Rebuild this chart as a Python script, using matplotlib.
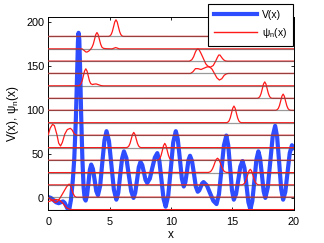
import matplotlib
matplotlib.use("Agg")
import matplotlib.pyplot as plt

plt.rcParams['font.family'] = ['Liberation Sans', 'DejaVu Sans']
plt.rcParams['mathtext.fontset'] = 'custom'
plt.rcParams['mathtext.rm'] = 'Liberation Sans'
plt.rcParams['mathtext.it'] = 'Liberation Sans'

# ---- potential V(x) ----
v_x = [0.0, 0.21, 0.43, 0.64, 0.85, 1.02, 1.2, 1.33, 1.45, 1.58, 1.7,
       1.85, 2.0, 2.12, 2.25, 2.35, 2.42, 2.47, 2.53, 2.6, 2.68, 2.78, 2.88, 2.97, 3.05,
       3.16, 3.28, 3.39, 3.5, 3.64, 3.78, 3.91, 4.05, 4.23, 4.4, 4.58, 4.75,
       4.95, 5.15, 5.35, 5.55, 5.71, 5.86, 6.02, 6.17, 6.37, 6.56, 6.76, 6.95,
       7.09, 7.24, 7.38, 7.52, 7.66, 7.8, 7.93, 8.07, 8.28, 8.48, 8.69, 8.89,
       9.06, 9.23, 9.4, 9.57, 9.78, 9.99, 10.19, 10.4, 10.56, 10.73, 10.89, 11.05,
       11.18, 11.31, 11.43, 11.56, 11.72, 11.88, 12.03, 12.19, 12.31, 12.43, 12.54, 12.66,
       12.93, 13.19, 13.46, 13.72, 13.92, 14.12, 14.32, 14.52, 14.67, 14.83, 14.98, 15.13,
       15.31, 15.49, 15.66, 15.84, 16.0, 16.16, 16.32, 16.48, 16.64, 16.81, 16.97, 17.13,
       17.27, 17.42, 17.56, 17.7, 17.9, 18.1, 18.3, 18.5, 18.66, 18.83, 18.99, 19.15,
       19.33, 19.51, 19.69, 19.87, 20.0]
v_y = [1, 0, -2.5, -5, -6, -5, -4, -5.5, -9, -12.5, -14,
       -2, 20, 45, 90, 140, 178, 188, 180, 145, 95, 45, 12, -1, -3,
       3, 17.5, 32, 38, 33, 20.5, 8, 3, 13.7, 39.5, 65.3, 76,
       64.6, 37, 9.4, -2, 6, 25.5, 45, 53, 45.3, 26.5, 7.7, 0,
       6, 20.5, 35, 41, 37.5, 29, 20.5, 17, 22, 34, 46, 51,
       42, 20.5, -1, -10, 2.6, 33, 63.4, 76, 66.8, 44.5, 22.2, 13,
       18, 30.5, 43, 48, 42, 27.5, 13, 7, 8.6, 12.5, 16.4, 18,
       14.3, 5.5, -3.3, -7, 4.4, 32, 59.6, 71, 60.3, 34.5, 8.7, -2,
       4.4, 20, 35.6, 42, 34, 14.5, -5, -13, -3.4, 20, 43.4, 53,
       45.3, 26.5, 7.7, 0, 12, 41, 70, 82, 69.7, 40, 10.3, -2,
       7, 29, 51, 60, 57]

# ---- energy levels (display offsets) ----
levels = [-13.3, 0.8, 14.8, 28.8, 42.8, 57.2, 71.3, 85.6, 99.7, 113.3,
          127.6, 141.7, 155.7, 169.7, 183.8]

# ---- wavefunctions psi_n(x), offsets from their level ----
psi0_x = [0, 0.3, 0.6, 0.9, 1.2, 1.5, 1.75, 2.0, 20]
psi0_y = [9, 10.5, 11.5, 11, 7, 2, 0.3, 0, 0]
psi1_x = [0, 0.3, 0.55, 0.75, 1.0, 1.25, 1.5, 1.7, 1.85, 2.0, 2.15, 2.3, 20]
psi1_y = [-0.5, -3, -6, -5, 0, 6, 12, 15, 12, 5, 1, 0, 0]
psi2_x = [0, 15.77, 15.87, 15.97, 16.07, 16.17, 16.27, 16.37, 16.47, 16.57, 16.67, 16.77, 16.87, 16.97, 17.07, 17.17, 20]
psi2_y = [0, 0.1, 0.4, 1.4, 3.4, 7.0, 11.8, 16.1, 17.8, 16.1, 11.8, 7.0, 3.4, 1.4, 0.4, 0.1, 0]
psi3_x = [0, 13.05, 13.2, 13.3, 13.4, 13.5, 13.6, 13.7, 13.8, 13.9, 14.0, 14.1, 14.2, 14.3, 14.4, 14.55, 20]
psi3_y = [0, 0.2, 0.9, 2.2, 4.6, 8.0, 12.0, 15.1, 16.4, 15.1, 12.0, 8.0, 4.6, 2.2, 0.9, 0.2, 0]
psi4_x = [0, 8.9, 9.0, 9.1, 9.2, 9.3, 9.4, 9.5, 9.6, 9.7, 9.8, 9.9, 10.0, 10.1, 20]
psi4_y = [0, 0.1, 0.6, 2.1, 5.6, 11.1, 16.8, 19.3, 16.8, 11.1, 5.6, 2.1, 0.6, 0.1, 0]
psi5_x = [0, 6.37, 6.47, 6.57, 6.67, 6.77, 6.87, 6.97, 7.07, 7.17, 7.27, 7.37, 7.47, 7.57, 20]
psi5_y = [0, 0.1, 0.5, 1.9, 5.0, 10.0, 15.1, 17.4, 15.1, 10.0, 5.0, 1.9, 0.5, 0.1, 0]
psi6_x = [0, 0.15, 0.35, 0.5, 0.7, 0.85, 1.0, 1.15, 1.35, 1.55, 1.8, 1.95, 2.1, 2.25, 2.4, 20]
psi6_y = [0.5, 8, 12.5, 11, 1, -9, -12.2, -8, 1.5, 6.5, 8, 6, 2, 0.3, 0, 0]
psi7_x = [0, 14.54, 14.64, 14.74, 14.84, 14.94, 15.04, 15.14, 15.24, 15.34, 15.44, 15.54, 15.64, 15.74, 20]
psi7_y = [0, 0.1, 0.6, 2.1, 5.5, 10.9, 16.5, 19.0, 16.5, 10.9, 5.5, 2.1, 0.6, 0.1, 0]
psi8_x = [0, 18.55, 18.65, 18.75, 18.85, 18.95, 19.05, 19.15, 19.25, 19.35, 19.45, 19.55, 19.65, 19.75, 20]
psi8_y = [0, 0.1, 0.6, 2.0, 5.3, 10.6, 16.1, 18.5, 16.1, 10.6, 5.3, 2.0, 0.6, 0.1, 0]
psi9_x = [0, 17.05, 17.15, 17.25, 17.35, 17.45, 17.55, 17.65, 17.75, 17.85, 17.95, 18.05, 18.15, 18.25, 20]
psi9_y = [0, 0.1, 0.6, 2.0, 5.4, 10.8, 16.4, 18.8, 16.4, 10.8, 5.4, 2.0, 0.6, 0.1, 0]
psi10_x = [0, 2.46, 2.56, 2.66, 2.76, 2.86, 2.96, 3.06, 3.16, 3.26, 3.36, 3.46, 3.6, 3.75, 3.9, 4.05, 4.3, 4.5, 20]
psi10_y = [0, 0.1, 0.6, 2.1, 5.6, 11.2, 16.9, 19.4, 16.9, 11.2, 5.6, 2.5, 1.5, 2, 2.2, 1.5, 0.3, 0, 0]
psi11_x = [0, 11.6, 11.8, 12.0, 12.2, 12.45, 12.7, 12.95, 13.15, 13.35, 13.55, 13.75, 13.95, 14.15, 14.35, 14.55, 14.7, 20]
psi11_y = [0, 0, 2, 5.5, 5.5, 4.5, 6, 7.5, 7.5, 5, 0, -5, -7.5, -6, -2, -0.3, 0, 0]
psi12_x = [0, 11.5, 11.7, 11.85, 12.0, 12.1, 12.2, 12.3, 12.45, 12.6, 12.84, 13.0, 13.2, 13.45, 13.65, 13.8, 13.9, 14.0, 14.15, 14.3, 14.45, 14.6, 20]
psi12_y = [0, 0, 1.5, 5, 10.5, 13, 14, 13, 9, 4.5, -3, -5.5, -7, -5, 0, 4.5, 7, 7, 4, 1.5, 0.3, 0, 0]
psi13_x = [0, 2.75, 2.9, 3.05, 3.15, 3.3, 3.45, 3.57, 3.67, 3.77, 3.87, 3.97, 4.07, 4.17, 4.27, 4.37, 4.5, 4.7, 5.2, 5.4, 5.5, 5.6, 5.8, 20]
psi13_y = [0, 0, -1.5, -3.4, -3.7, -2.5, -0.5, 2, 5.4, 10.7, 16.2, 18.6, 16.2, 10.7, 5.4, 2, 0.6, 0.2, 0, 1, 1.5, 1, 0, 0]
psi14_x = [0, 4.92, 5.02, 5.12, 5.22, 5.32, 5.42, 5.52, 5.62, 5.72, 5.82, 5.92, 6.02, 6.12, 20]
psi14_y = [0, 0.1, 0.6, 2.1, 5.5, 10.9, 16.5, 19.0, 16.5, 10.9, 5.5, 2.1, 0.6, 0.1, 0]

psi_xs = [psi0_x, psi1_x, psi2_x, psi3_x, psi4_x, psi5_x, psi6_x, psi7_x,
          psi8_x, psi9_x, psi10_x, psi11_x, psi12_x, psi13_x, psi14_x]
psi_ys = [psi0_y, psi1_y, psi2_y, psi3_y, psi4_y, psi5_y, psi6_y, psi7_y,
          psi8_y, psi9_y, psi10_y, psi11_y, psi12_y, psi13_y, psi14_y]

x_ticks = [0, 5, 10, 15, 20]
y_ticks = [0, 50, 100, 150, 200]

fig = plt.figure(figsize=(3.24, 2.43), dpi=100)
ax = fig.add_axes([0.149, 0.136, 0.757, 0.793])

hv, = ax.plot(v_x, v_y, color='#2d4dff', lw=3.0, zorder=2, label='V(x)',
              solid_joinstyle='round')
hp = None
for E, px, py in zip(levels, psi_xs, psi_ys):
    h, = ax.plot(px, [E + v for v in py], color='#ff1a1a', lw=0.9, zorder=3)
    ax.plot([0, 20], [E, E], color='#555555', lw=0.9, alpha=0.6, zorder=4)
    hp = h

ax.set_xlim(0, 20)
ax.set_ylim(-13.7, 205.7)
ax.set_xticks(x_ticks)
ax.set_yticks(y_ticks)
ax.tick_params(direction='in', length=2.5, width=0.6, top=True, right=True,
               labelsize=7.8)
ax.tick_params(axis='x', pad=5)
ax.tick_params(axis='y', pad=3)
for s in ax.spines.values():
    s.set_linewidth(0.7)
ax.set_xlabel('x', fontsize=8.5, labelpad=1.5)
ax.set_ylabel(r'V(x), ψ$_{\rm n}$(x)', fontsize=8.5, labelpad=3.5)

leg = ax.legend([hv, hp], ['V(x)', r'ψ$_{\rm n}$(x)'], loc='upper right',
                bbox_to_anchor=(0.904, 0.984), bbox_transform=fig.transFigure,
                borderaxespad=0, fancybox=False, fontsize=7.5,
                handlelength=4.1, handletextpad=0.5, labelspacing=0.6,
                borderpad=0.55, framealpha=1)
leg.get_frame().set_edgecolor('black')
leg.get_frame().set_linewidth(0.8)
leg.get_lines()[1].set_linewidth(1.0)

fig.savefig('out.png', dpi=100)
